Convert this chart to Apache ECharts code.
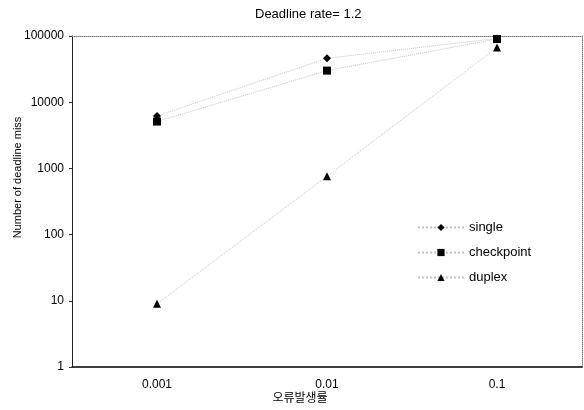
<!DOCTYPE html>
<html>
<head>
<meta charset="utf-8">
<script src="https://cdn.jsdelivr.net/npm/echarts@6/dist/echarts.min.js"></script>
<style>
  html, body { margin: 0; padding: 0; background: #fff; }
  #chart { width: 584px; height: 410px; }
</style>
</head>
<body>
<div id="chart"></div>
<script>
// Error rate categories on the x axis
const categories = ['0.001', '0.01', '0.1'];

// Number of deadline misses per scheme
const singleValues = [6200, 46000, 92000];
const checkpointValues = [5100, 30000, 90000];
const duplexValues = [9, 760, 67000];

// Log-scale y axis bounds
const yMin = 1;
const yMax = 100000;

const FONT = '"Liberation Sans", Arial, sans-serif';
const CJK = '"Noto Sans CJK KR", "Liberation Sans", sans-serif';

const lineStyle = { color: '#c4c4c4', width: 1, type: 'dotted' };

function makeSeries(name, data, symbol, size) {
  return {
    name: name,
    type: 'line',
    data: data,
    symbol: symbol,
    symbolSize: size,
    showSymbol: true,
    itemStyle: { color: '#000' },
    lineStyle: lineStyle,
    emphasis: { disabled: true },
    z: 3
  };
}

const chart = echarts.init(document.getElementById('chart'), null, { renderer: 'canvas' });

chart.setOption({
  animation: false,
  backgroundColor: '#fff',
  textStyle: { fontFamily: FONT },
  title: {
    text: 'Deadline rate= 1.2',
    left: 250,
    top: 3,
    textStyle: { fontFamily: FONT, fontSize: 13, fontWeight: 'normal', color: '#000' }
  },
  legend: {
    orient: 'vertical',
    left: 412,
    top: 216,
    itemWidth: 46,
    itemHeight: 9,
    itemGap: 12,
    textStyle: { fontFamily: FONT, fontSize: 13, color: '#000' },
    data: ['single', 'checkpoint', 'duplex']
  },
  grid: { left: 72, right: 2, top: 36, bottom: 43, containLabel: false, outerBoundsMode: 'none' },
  xAxis: [
    {
      type: 'category',
      data: categories,
      boundaryGap: true,
      name: '오류발생률',
      nameLocation: 'middle',
      nameGap: 24,
      nameMoveOverlap: false,
      nameTextStyle: { fontFamily: CJK, fontSize: 12, color: '#000', padding: [0, 54, 0, 0] },
      axisLine: { lineStyle: { color: '#000', width: 1.5 } },
      axisTick: { show: false },
      axisLabel: { fontFamily: FONT, fontSize: 12, color: '#000', margin: 12 },
      splitLine: { show: false }
    },
    {
      type: 'category',
      data: categories,
      position: 'top',
      boundaryGap: true,
      axisLine: { lineStyle: { color: '#777', width: 1, type: 'dotted' } },
      axisTick: { show: false },
      axisLabel: { show: false },
      splitLine: { show: false }
    }
  ],
  yAxis: [
    {
      type: 'log',
      logBase: 10,
      min: yMin,
      max: yMax,
      name: 'Number of deadline miss',
      nameLocation: 'middle',
      nameGap: 49,
      nameMoveOverlap: false,
      nameTextStyle: { fontFamily: FONT, fontSize: 11, color: '#000', padding: [0, 0, 0, 48] },
      axisLine: { show: true, lineStyle: { color: '#222', width: 1 } },
      axisTick: { show: true, length: 3, lineStyle: { color: '#333' } },
      axisLabel: {
        fontFamily: FONT, fontSize: 12, color: '#000', margin: 8,
        formatter: function (v) { return String(Math.round(v)); }
      },
      splitLine: { show: false }
    },
    {
      type: 'log',
      logBase: 10,
      min: yMin,
      max: yMax,
      position: 'right',
      axisLine: { show: true, lineStyle: { color: '#777', width: 1, type: 'dotted' } },
      axisTick: { show: false },
      axisLabel: { show: false },
      splitLine: { show: false }
    }
  ],
  series: [
    makeSeries('single', singleValues, 'diamond', 8),
    makeSeries('checkpoint', checkpointValues, 'rect', 8),
    makeSeries('duplex', duplexValues, 'triangle', 8)
  ]
});
</script>
</body>
</html>
